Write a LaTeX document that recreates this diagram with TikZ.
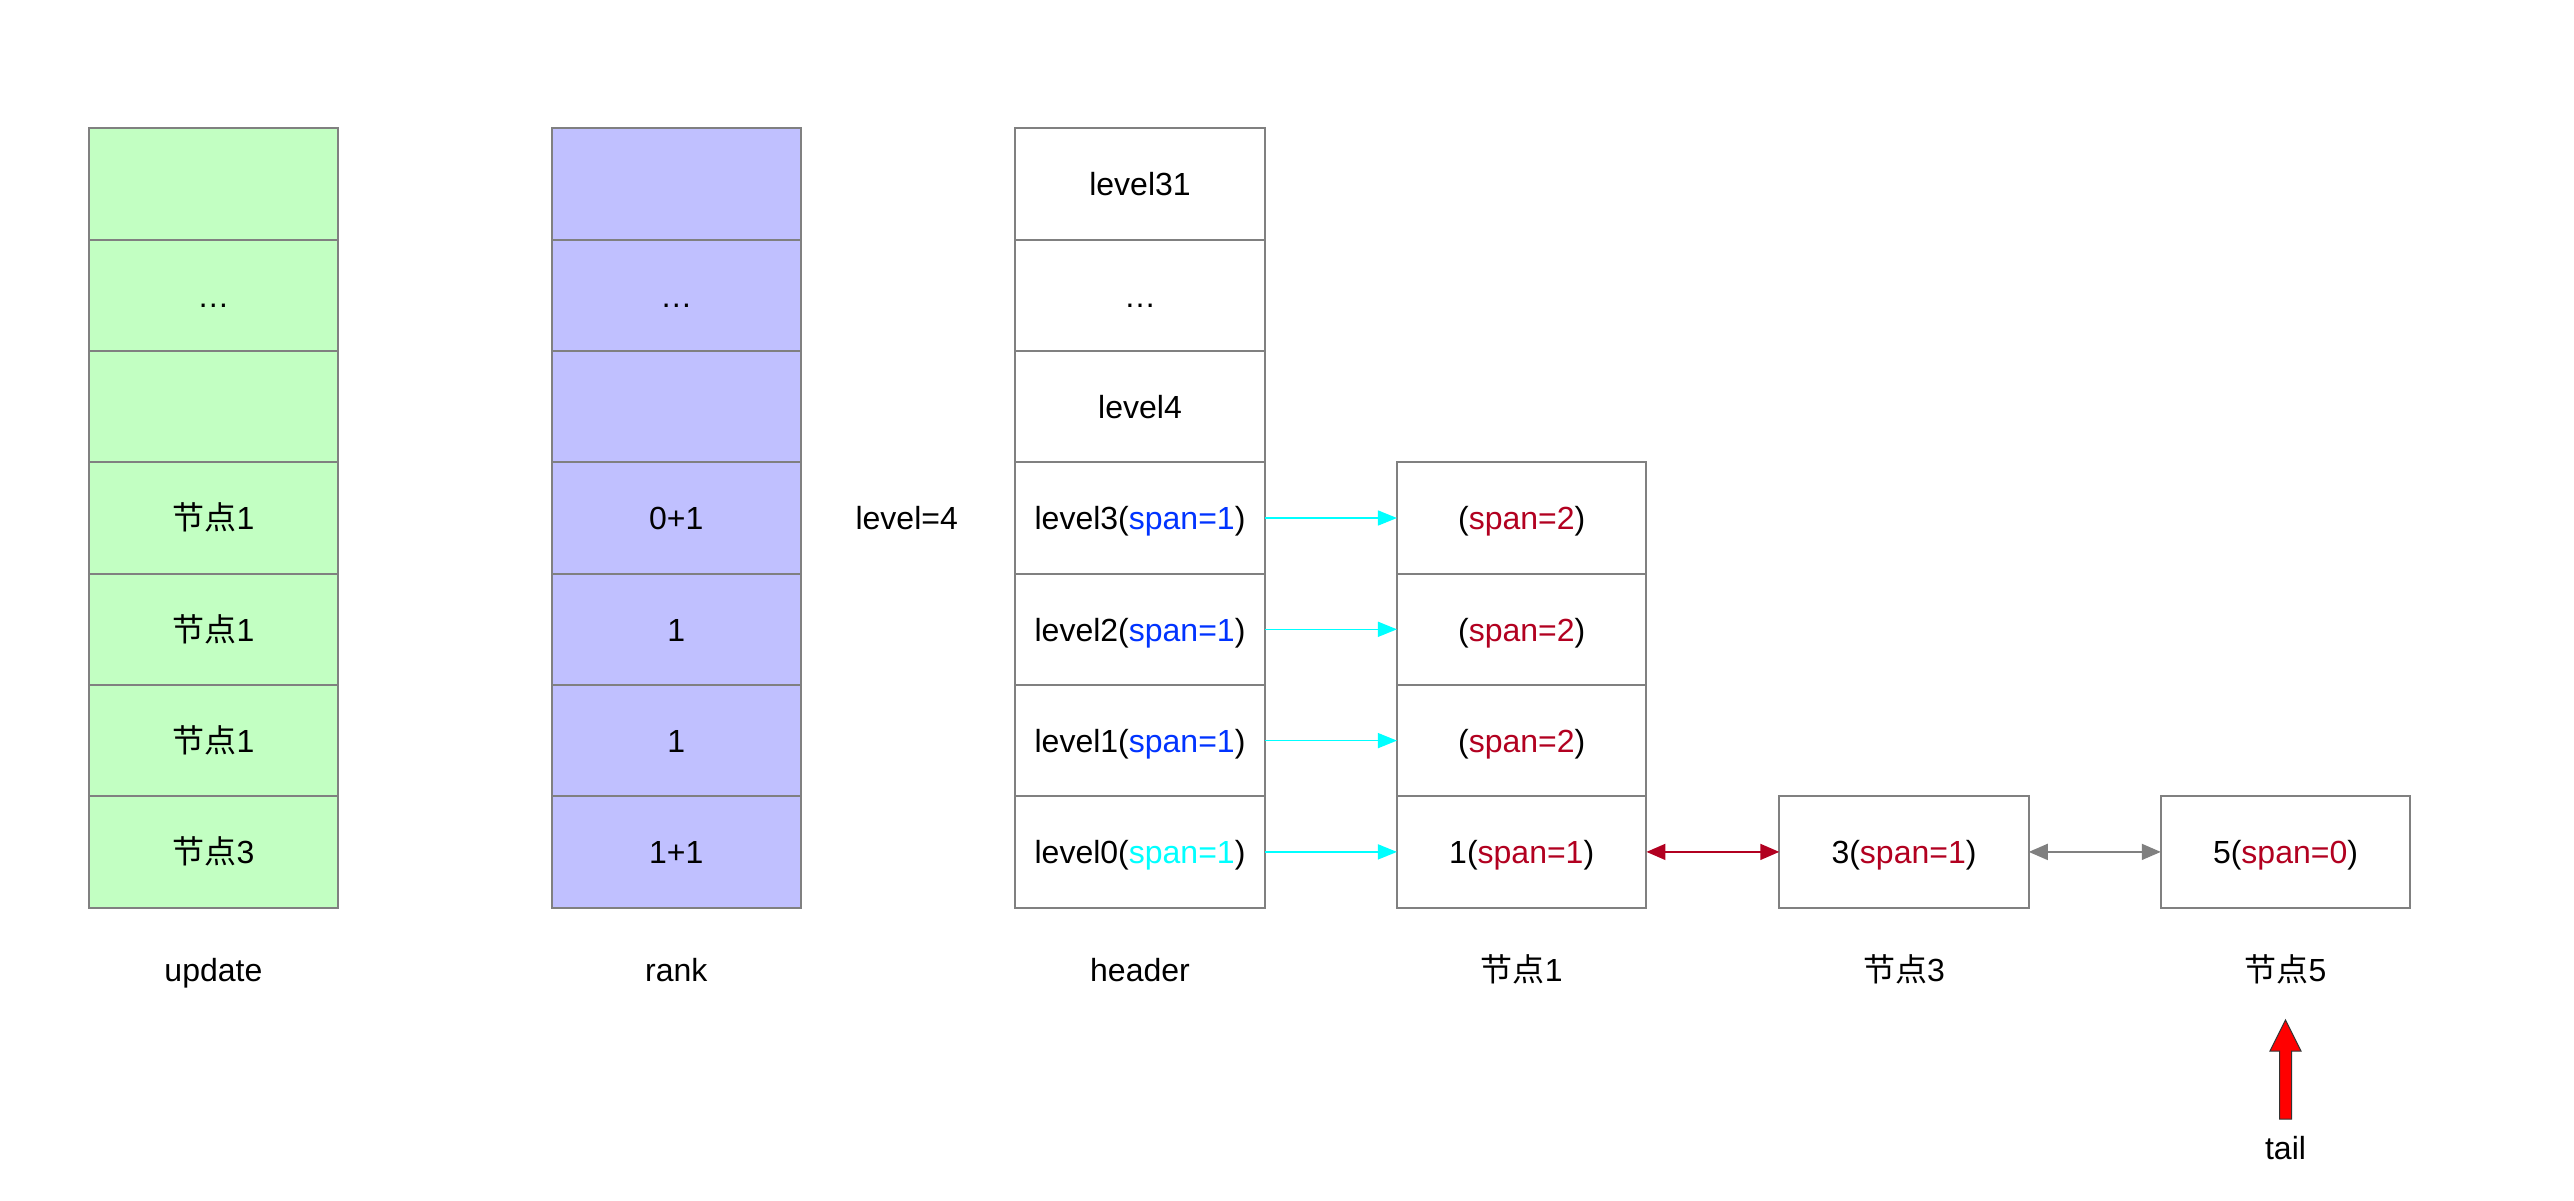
\documentclass[tikz,border=0pt]{standalone}
\usepackage{fontspec}
\setmainfont{Liberation Sans}
\newfontfamily\cjk{Noto Sans CJK SC}
\usetikzlibrary{arrows.meta}
\definecolor{cellgreen}{HTML}{C2FFC2}
\definecolor{cellblue}{HTML}{C0C0FF}
\definecolor{edgegray}{HTML}{808080}
\definecolor{spanblue}{HTML}{0033FF}
\definecolor{spancyan}{HTML}{00FFFF}
\definecolor{spanred}{HTML}{B20020}
\definecolor{tailred}{HTML}{FF0000}
\begin{document}
\begin{tikzpicture}[x=0.5pt,y=-0.5pt,
  cell/.style={draw=edgegray, line width=1pt, minimum width=124.75pt, minimum height=55.65pt,
    inner sep=0pt, outer sep=0pt, font=\fontsize{16}{19}\selectfont, fill=white,
    text height=11.7pt, text depth=0pt},
  gcell/.style={cell, fill=cellgreen},
  bcell/.style={cell, fill=cellblue},
  lbl/.style={font=\fontsize{16}{19}\selectfont, inner sep=0pt, text height=11.7pt, text depth=0pt},
  cyanlink/.style={draw=spancyan, line width=0.75pt, -{Triangle[length=9.5pt,width=7.5pt]}},
  redlink/.style={draw=spanred, line width=0.85pt, {Triangle[length=9.5pt,width=8pt]}-{Triangle[length=9.5pt,width=8pt]}},
  graylink/.style={draw=edgegray, line width=0.85pt, {Triangle[length=9.5pt,width=8pt]}-{Triangle[length=9.5pt,width=8pt]}}
]
\useasboundingbox[fill=white] (0,0) rectangle (2574,1200);

% update column
\node[gcell] (u0) at (213.4,184.1) {};
\node[gcell] (u1) at (213.4,295.4) {…};
\node[gcell] (u2) at (213.4,406.7) {};
\node[gcell] (u3) at (213.4,518.0) {{\cjk 节点}1};
\node[gcell] (u4) at (213.4,629.3) {{\cjk 节点}1};
\node[gcell] (u5) at (213.4,740.6) {{\cjk 节点}1};
\node[gcell] (u6) at (213.4,851.9) {{\cjk 节点}3};
\node[lbl] (ulbl) at (213.4,970) {update};

% rank column
\node[bcell] (r0) at (676.3,184.1) {};
\node[bcell] (r1) at (676.3,295.4) {…};
\node[bcell] (r2) at (676.3,406.7) {};
\node[bcell] (r3) at (676.3,518.0) {0+1};
\node[bcell] (r4) at (676.3,629.3) {1};
\node[bcell] (r5) at (676.3,740.6) {1};
\node[bcell] (r6) at (676.3,851.9) {1+1};
\node[lbl] (rlbl) at (676.3,970) {rank};

\node[lbl] (lvl) at (906.7,518) {level=4};

% header column
\node[cell] (h0) at (1140,184.1) {level31};
\node[cell] (h1) at (1140,295.4) {…};
\node[cell] (h2) at (1140,406.7) {level4};
\node[cell] (h3) at (1140,518.0) {level3(\textcolor{spanblue}{span=1})};
\node[cell] (h4) at (1140,629.3) {level2(\textcolor{spanblue}{span=1})};
\node[cell] (h5) at (1140,740.6) {level1(\textcolor{spanblue}{span=1})};
\node[cell] (h6) at (1140,851.9) {level0(\textcolor{spancyan}{span=1})};
\node[lbl] (hlbl) at (1140,970) {header};

% node 1
\node[cell] (a3) at (1521.7,518.0) {(\textcolor{spanred}{span=2})};
\node[cell] (a2) at (1521.7,629.3) {(\textcolor{spanred}{span=2})};
\node[cell] (a1) at (1521.7,740.6) {(\textcolor{spanred}{span=2})};
\node[cell] (a0) at (1521.7,851.9) {1(\textcolor{spanred}{span=1})};
\node[lbl] (albl) at (1521.7,970) {{\cjk 节点}1};

% node 3
\node[cell] (b0) at (1904,851.9) {3(\textcolor{spanred}{span=1})};
\node[lbl] (blbl) at (1904,970) {{\cjk 节点}3};

% node 5
\node[cell] (c0) at (2285.5,851.9) {5(\textcolor{spanred}{span=0})};
\node[lbl] (clbl) at (2285.5,970) {{\cjk 节点}5};

% links
\draw[cyanlink] (h3.east) -- (a3.west);
\draw[cyanlink] (h4.east) -- (a2.west);
\draw[cyanlink] (h5.east) -- (a1.west);
\draw[cyanlink] (h6.east) -- (a0.west);
\draw[redlink] (a0.east) -- (b0.west);
\draw[graylink] (b0.east) -- (c0.west);

% tail pointer
\node[lbl] (tail) at (2285.5,1148) {tail};
\draw[draw=black!80, line width=0.5pt, fill=tailred]
  (2285.5,1020) -- (2301,1051) -- (2291.5,1051) -- (2291.5,1119)
  -- (2279.5,1119) -- (2279.5,1051) -- (2270,1051) -- cycle;
\end{tikzpicture}
\end{document}
